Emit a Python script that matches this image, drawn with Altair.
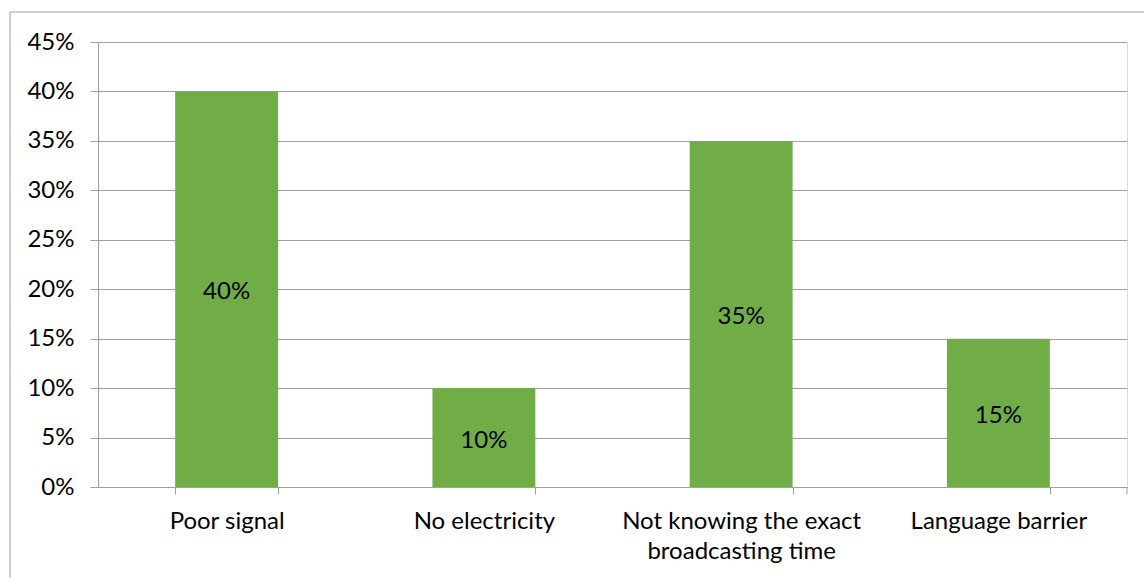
import altair as alt
import pandas as pd

categories = ["Poor signal", "No electricity", "Not knowing the exact broadcasting time", "Language barrier"]
values = [0.40, 0.10, 0.35, 0.15]
y_ticks = [0, 0.05, 0.10, 0.15, 0.20, 0.25, 0.30, 0.35, 0.40, 0.45]

df = pd.DataFrame({"cat": categories, "val": values})

FONT = "Lato"
FS = 24
GRAY = "#A0A0A0"

x_enc = alt.X("cat:N", sort=categories, title=None,
              scale=alt.Scale(paddingInner=0.6, paddingOuter=0.3),
              axis=alt.Axis(labelAngle=0, labelFontSize=FS, labelFont=FONT, labelColor="#000000",
                            labelPadding=15, labelLineHeight=30, labelBaseline="top",
                            tickColor=GRAY, tickSize=7, tickBand="extent",
                            domainColor=GRAY, labelLimit=400,
                            labelExpr="datum.label == 'Not knowing the exact broadcasting time' ? ['Not knowing the exact', 'broadcasting time'] : datum.label"))

y_enc = alt.Y("val:Q", title=None,
              scale=alt.Scale(domain=[0, 0.45], nice=False),
              axis=alt.Axis(values=y_ticks, format=".0%", labelFontSize=FS, labelFont=FONT,
                            labelColor="#000000", labelPadding=16, tickColor=GRAY, tickSize=8,
                            gridColor=GRAY, domainColor=GRAY))

bars = alt.Chart(df).mark_bar(color="#70AD47").encode(x=x_enc, y=y_enc)

text = alt.Chart(df).mark_text(font=FONT, fontSize=FS, color="#000000", dy=3).encode(
    x=alt.X("cat:N", sort=categories),
    y=alt.Y("mid:Q"),
    text=alt.Text("val:Q", format=".0%"),
).transform_calculate(mid="datum.val / 2")

# right-most tick at end of axis
end_tick = alt.Chart(pd.DataFrame({"a": [0]})).mark_rule(color=GRAY, strokeWidth=1).encode(
    x=alt.value(1029), y=alt.value(445), y2=alt.value(452))

# outer chart border (top and left edges)
border_top = alt.Chart(pd.DataFrame({"a": [0]})).mark_rule(color=GRAY, strokeWidth=1).encode(
    x=alt.value(-88), x2=alt.value(1046), y=alt.value(-30))
border_left = alt.Chart(pd.DataFrame({"a": [0]})).mark_rule(color=GRAY, strokeWidth=1).encode(
    x=alt.value(-88), y=alt.value(-30), y2=alt.value(540))

chart = alt.layer(bars, text, end_tick, border_top, border_left).properties(
    width=1029, height=445,
    autosize=alt.AutoSizeParams(type="none"),
    padding={"left": 98, "top": 42, "right": 17, "bottom": 91},
).configure_view(stroke=None).configure(background="#FFFFFF")

chart.save("out.html", embed_options={"renderer": "svg", "actions": False})
